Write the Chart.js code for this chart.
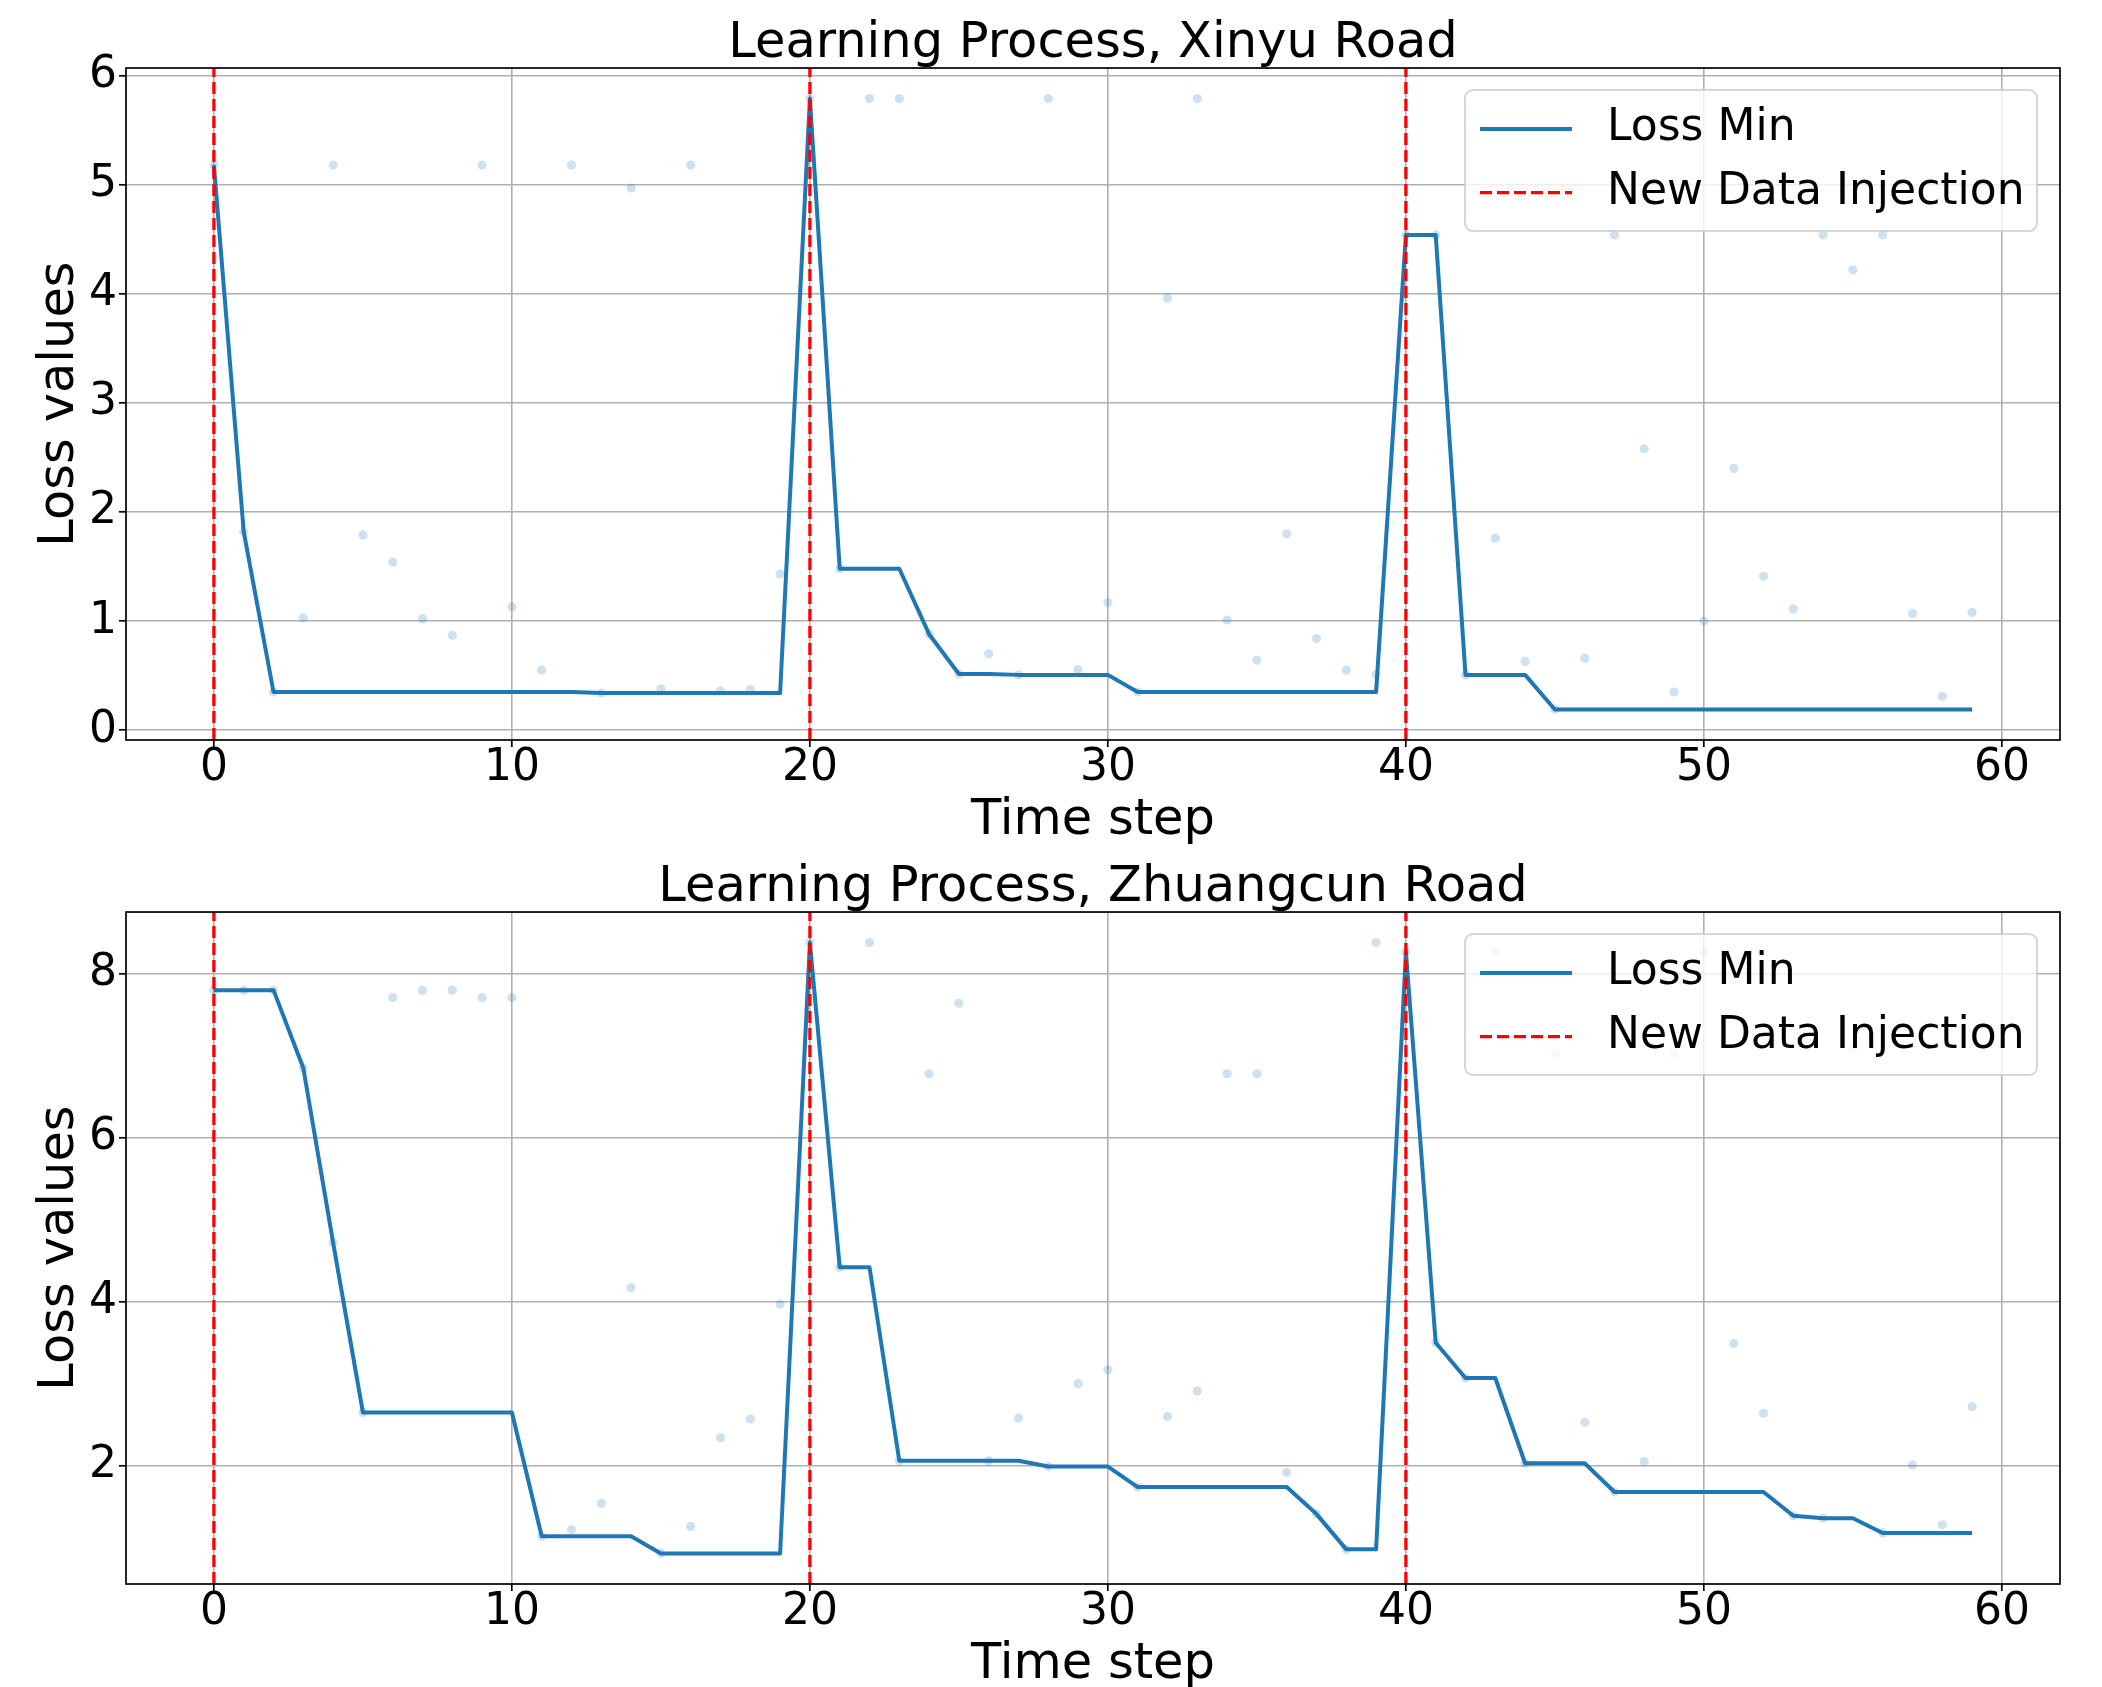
<!DOCTYPE html>
<html>
<head>
<meta charset="utf-8">
<script src="https://cdn.jsdelivr.net/npm/chart.js@4.4.1/dist/chart.umd.min.js"></script>
<style>
  html, body { margin: 0; padding: 0; background: #fff; overflow: hidden; }
  .panel { position: absolute; left: 0; }
</style>
</head>
<body>
<canvas id="chartXinyu" class="panel" width="2102" height="846" style="top:0"></canvas>
<canvas id="chartZhuangcun" class="panel" width="2102" height="846" style="top:844px"></canvas>
<script>
// Time steps and injection points
const timeSteps = [0, 1, 2, 3, 4, 5, 6, 7, 8, 9, 10, 11, 12, 13, 14, 15, 16, 17, 18, 19,
  20, 21, 22, 23, 24, 25, 26, 27, 28, 29, 30, 31, 32, 33, 34, 35, 36, 37, 38, 39,
  40, 41, 42, 43, 44, 45, 46, 47, 48, 49, 50, 51, 52, 53, 54, 55, 56, 57, 58, 59];
const injectionSteps = [0, 20, 40];

const xTicks = [0, 10, 20, 30, 40, 50, 60];
const yTicksXinyu = [0, 1, 2, 3, 4, 5, 6];
const yTicksZhuangcun = [2, 4, 6, 8];

// Xinyu Road: raw loss per step + running minimum
const xinyuLoss = [5.18, 1.82, 0.35, 1.03, 5.18, 1.79, 1.54, 1.02, 0.87, 5.18,
  1.13, 0.55, 5.18, 0.34, 4.97, 0.38, 5.18, 0.36, 0.37, 1.43,
  5.79, 1.48, 5.79, 5.79, 0.88, 0.515, 0.70, 0.507, 5.79, 0.556,
  1.17, 0.35, 3.96, 5.79, 1.01, 0.64, 1.80, 0.84, 0.55, 0.51,
  4.54, 4.54, 0.507, 1.76, 0.63, 0.19, 0.66, 4.54, 2.58, 0.35,
  1.00, 2.40, 1.41, 1.11, 4.54, 4.22, 4.54, 1.07, 0.31, 1.08];
const xinyuLossMin = [5.18, 1.82, 0.35, 0.35, 0.35, 0.35, 0.35, 0.35, 0.35, 0.35,
  0.35, 0.35, 0.35, 0.34, 0.34, 0.34, 0.34, 0.34, 0.34, 0.34,
  5.79, 1.48, 1.48, 1.48, 0.88, 0.515, 0.515, 0.507, 0.507, 0.507,
  0.507, 0.35, 0.35, 0.35, 0.35, 0.35, 0.35, 0.35, 0.35, 0.35,
  4.54, 4.54, 0.507, 0.507, 0.507, 0.19, 0.19, 0.19, 0.19, 0.19,
  0.19, 0.19, 0.19, 0.19, 0.19, 0.19, 0.19, 0.19, 0.19, 0.19];

// Zhuangcun Road
const zhuangcunLoss = [7.80, 7.80, 7.80, 6.85, 4.72, 2.65, 7.71, 7.80, 7.80, 7.71,
  7.71, 1.14, 1.22, 1.54, 4.17, 0.93, 1.26, 2.34, 2.57, 3.97,
  8.38, 4.42, 8.38, 2.06, 6.78, 7.64, 2.06, 2.58, 1.99, 3.00,
  3.17, 1.74, 2.60, 2.91, 6.78, 6.78, 1.92, 1.41, 0.98, 8.38,
  8.27, 3.50, 3.07, 8.27, 2.03, 7.02, 2.53, 1.68, 2.05, 7.02,
  8.27, 3.49, 2.64, 1.39, 1.36, 7.08, 1.18, 2.01, 1.28, 2.72];
const zhuangcunLossMin = [7.80, 7.80, 7.80, 6.85, 4.72, 2.65, 2.65, 2.65, 2.65, 2.65,
  2.65, 1.14, 1.14, 1.14, 1.14, 0.93, 0.93, 0.93, 0.93, 0.93,
  8.38, 4.42, 4.42, 2.06, 2.06, 2.06, 2.06, 2.06, 1.99, 1.99,
  1.99, 1.74, 1.74, 1.74, 1.74, 1.74, 1.74, 1.41, 0.98, 0.98,
  8.27, 3.50, 3.07, 3.07, 2.03, 2.03, 2.03, 1.68, 1.68, 1.68,
  1.68, 1.68, 1.68, 1.39, 1.36, 1.36, 1.18, 1.18, 1.18, 1.18];

const FONT = "DejaVu Sans";
Chart.defaults.font.family = FONT;
Chart.defaults.color = "#000";

// spines + matplotlib-like legend box in the upper right of the plot area
const frameAndLegend = {
  id: "frameAndLegend",
  afterDraw(chart) {
    const { ctx, chartArea: a } = chart;
    ctx.save();
    ctx.strokeStyle = "#000";
    ctx.lineWidth = 1.7;
    ctx.strokeRect(a.left, a.top, a.right - a.left, a.bottom - a.top);

    const w = 572, h = 141;
    const x0 = a.right - 23 - w, y0 = a.top + 22;
    ctx.beginPath();
    ctx.roundRect(x0, y0, w, h, 8);
    ctx.fillStyle = "rgba(255,255,255,0.8)";
    ctx.fill();
    ctx.strokeStyle = "rgba(204,204,204,0.8)";
    ctx.lineWidth = 2;
    ctx.stroke();

    const items = chart.data.datasets.filter(ds => ds.inLegend);
    items.forEach((ds, i) => {
      const y = y0 + 39 + i * 63.5;
      ctx.setLineDash(ds.borderDash || []);
      ctx.strokeStyle = ds.borderColor;
      ctx.lineWidth = ds.borderWidth;
      ctx.beginPath();
      ctx.moveTo(x0 + 15, y);
      ctx.lineTo(x0 + 107, y);
      ctx.stroke();
      ctx.setLineDash([]);
      ctx.fillStyle = "#000";
      ctx.font = `44px "${FONT}"`;
      ctx.textAlign = "left";
      ctx.textBaseline = "middle";
      ctx.fillText(ds.label, x0 + 142, y);
    });
    ctx.restore();
  }
};

function buildPanel(canvasId, titleText, loss, lossMin, yTicks) {
  // matplotlib style 5% margins
  const xSpan = timeSteps[timeSteps.length - 1] - timeSteps[0];
  const xMin = timeSteps[0] - 0.05 * xSpan;
  const xMax = timeSteps[timeSteps.length - 1] + 0.05 * xSpan;
  const lo = Math.min(...loss), hi = Math.max(...loss);
  const yMin = lo - 0.05 * (hi - lo);
  const yMax = hi + 0.05 * (hi - lo);

  const injectionPoints = injectionSteps.flatMap(x => [{ x, y: yMin }, { x, y: yMax }, { x, y: null }]);

  return new Chart(document.getElementById(canvasId), {
    type: "line",
    data: {
      datasets: [
        {
          label: "Loss",
          data: timeSteps.map((x, i) => ({ x, y: loss[i] })),
          showLine: false,
          pointRadius: 4.6,
          pointBackgroundColor: "rgba(31,119,180,0.22)",
          pointBorderWidth: 0,
          pointBorderColor: "rgba(0,0,0,0)",
          order: 3
        },
        {
          label: "Loss Min",
          inLegend: true,
          data: timeSteps.map((x, i) => ({ x, y: lossMin[i] })),
          borderColor: "#1f77b4",
          borderWidth: 4,
          borderJoinStyle: "round",
          pointRadius: 0,
          tension: 0,
          fill: false,
          order: 2
        },
        {
          label: "New Data Injection",
          inLegend: true,
          data: injectionPoints,
          borderColor: "#ff0000",
          borderWidth: 3.3,
          borderDash: [12, 5],
          pointRadius: 0,
          spanGaps: false,
          fill: false,
          order: 1
        }
      ]
    },
    options: {
      responsive: false,
      animation: false,
      devicePixelRatio: 1,
      events: [],
      layout: { padding: { left: 0, right: 42, top: 0, bottom: 0 } },
      plugins: {
        legend: { display: false },
        tooltip: { enabled: false },
        title: {
          display: true,
          text: titleText,
          fullSize: false,
          color: "#000",
          font: { family: FONT, size: 49.5, weight: "normal", lineHeight: 0.95 },
          padding: { top: 21, bottom: 0 }
        }
      },
      scales: {
        x: {
          type: "linear",
          min: xMin,
          max: xMax,
          bounds: "data",
          afterBuildTicks: s => { s.ticks = xTicks.map(v => ({ value: v })); },
          afterFit: s => { s.height = 106; },
          ticks: {
            color: "#000",
            font: { family: FONT, size: 44, lineHeight: 1 },
            padding: 0,
            maxRotation: 0,
            autoSkip: false,
            callback: v => String(v)
          },
          grid: { color: "#b0b0b0", lineWidth: 1.6, tickColor: "#000", tickWidth: 1.7, tickLength: 7 },
          border: { display: false },
          title: {
            display: true,
            text: "Time step",
            color: "#000",
            font: { family: FONT, size: 49.5, lineHeight: 1 },
            padding: { top: 0, bottom: 0 }
          }
        },
        y: {
          type: "linear",
          min: yMin,
          max: yMax,
          bounds: "data",
          afterBuildTicks: s => { s.ticks = yTicks.map(v => ({ value: v })); },
          afterFit: s => { s.width = 126; },
          ticks: {
            color: "#000",
            font: { family: FONT, size: 44 },
            padding: 2,
            autoSkip: false,
            callback: v => String(v)
          },
          grid: { color: "#b0b0b0", lineWidth: 1.6, tickColor: "#000", tickWidth: 1.7, tickLength: 7 },
          border: { display: false },
          title: {
            display: true,
            text: "Loss values",
            color: "#000",
            font: { family: FONT, size: 49.5 },
            padding: { top: 30, bottom: 0 }
          }
        }
      }
    },
    plugins: [frameAndLegend]
  });
}

buildPanel("chartXinyu", "Learning Process, Xinyu Road", xinyuLoss, xinyuLossMin, yTicksXinyu);
buildPanel("chartZhuangcun", "Learning Process, Zhuangcun Road", zhuangcunLoss, zhuangcunLossMin, yTicksZhuangcun);
</script>
</body>
</html>
